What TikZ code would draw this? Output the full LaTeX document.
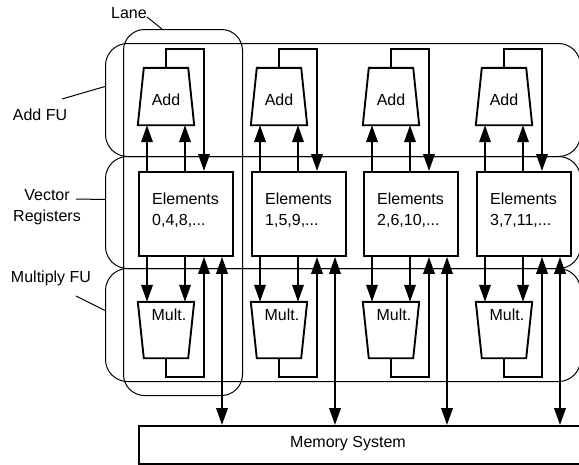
\documentclass[tikz,border=0pt]{standalone}
\usepackage{fontspec}
\setmainfont{Liberation Sans}
\usetikzlibrary{arrows.meta,calc}
\begin{document}
\begin{tikzpicture}[x=1pt,y=-1pt, font=\fontsize{16}{21}\selectfont,
  region/.style={draw, line width=1pt, rounded corners=22pt, inner sep=0pt, anchor=north west},
  comp/.style={draw, line width=1.9pt, inner sep=0pt},
  slot/.style={inner sep=0pt},
  wire/.style={line width=1.9pt},
  arr/.style={wire, -{Triangle[length=17pt,width=11.5pt]}},
  darr/.style={wire, {Triangle[length=17pt,width=11.5pt]}-{Triangle[length=17pt,width=11.5pt]}},
  lbl/.style={inner sep=0pt, align=center},
  leader/.style={line width=1pt}]
\useasboundingbox (0,0) rectangle (579,464);
\clip (0,0) rectangle (579,464);

% row regions and lane
\node[region, minimum width=475pt, minimum height=113pt] (addfu) at (105,43) {};
\node[region, minimum width=475pt, minimum height=112pt] (vregs) at (105,156) {};
\node[region, minimum width=475pt, minimum height=113pt] (multfu) at (105,268) {};
\node[region, rounded corners=21pt, minimum width=119pt, minimum height=366pt] (lane) at (123,29) {};

% labels and leaders
\node[lbl] (lanelbl) at (129,13) {Lane};
\coordinate (laneTip) at (147,17);
\draw[leader] (laneTip) -- ([xshift=39pt]lane.north west);
\node[lbl] (addfulbl) at (40,115) {Add FU};
\coordinate (addfuTip) at (62,99);
\draw[leader] (addfuTip) -- ([yshift=13.5pt]addfu.west);
\node[lbl] (vrlbl) at (47,207.5) {Vector\\Registers};
\coordinate (vrTip) at (76,199);
\draw[leader] (vrTip) -- ([yshift=13pt]vregs.west);
\node[lbl] (mflbl) at (51,278) {Multiply FU};
\coordinate (mfTip) at (76,296);
\draw[leader] (mfTip) -- ([yshift=14.5pt]multfu.west);

% memory
\node[comp, anchor=north west, minimum width=470pt, minimum height=38pt] (mem) at (138,425) {};
\node[lbl] (memtxt) at (348,444) {Memory System};

\foreach \i/\L/\nums in {1/138/{0,4,8,...}, 2/251/{1,5,9,...}, 3/363/{2,6,10,...}, 4/476/{3,7,11,...}}{
  \begin{scope}[xshift=\L pt]
    \node[comp, anchor=north west, minimum width=94pt, minimum height=84pt] (elem\i) at (0,171) {};
    \node[lbl, anchor=west, align=left] (elemtxt\i) at ([xshift=14pt,yshift=3.5pt]elem\i.west) {Elements\\\nums};
    \node[slot, minimum width=56pt, minimum height=57pt] (add\i) at (28,96.5) {};
    \node[lbl] (addtxt\i) at (28,99.5) {Add};
    \node[slot, minimum width=56pt, minimum height=56pt] (mult\i) at (28,330) {};
    \node[lbl] (multtxt\i) at (31,314.5) {Mult.};
  \end{scope}
  \draw[comp] ([xshift=6pt]add\i.north west) -- ([xshift=-6pt]add\i.north east)
     -- (add\i.south east) -- (add\i.south west) -- cycle;
  \draw[comp] (mult\i.north west) -- (mult\i.north east)
     -- ([xshift=-6pt]mult\i.south east) -- ([xshift=6pt]mult\i.south west) -- cycle;
  \coordinate (ua\i) at ([xshift=9pt]elem\i.north west);
  \coordinate (ub\i) at ([xshift=47pt]elem\i.north west);
  \coordinate (uc\i) at ([xshift=66pt]elem\i.north west);
  \coordinate (da\i) at ([xshift=9pt]elem\i.south west);
  \coordinate (db\i) at ([xshift=47pt]elem\i.south west);
  \coordinate (dc\i) at ([xshift=66pt]elem\i.south west);
  \coordinate (dm\i) at ([xshift=84pt]elem\i.south west);
  \draw[arr] (ua\i) -- (ua\i |- add\i.south);
  \draw[arr] (ub\i) -- (ub\i |- add\i.south);
  \draw[arr] (add\i.north) -- ++(0,-19) -| (uc\i);
  \draw[arr] (da\i) -- (da\i |- mult\i.north);
  \draw[arr] (db\i) -- (db\i |- mult\i.north);
  \draw[arr] (mult\i.south) -- ++(0,19) -| (dc\i);
  \draw[darr] (dm\i) -- (dm\i |- mem.north);
}
\end{tikzpicture}
\end{document}
